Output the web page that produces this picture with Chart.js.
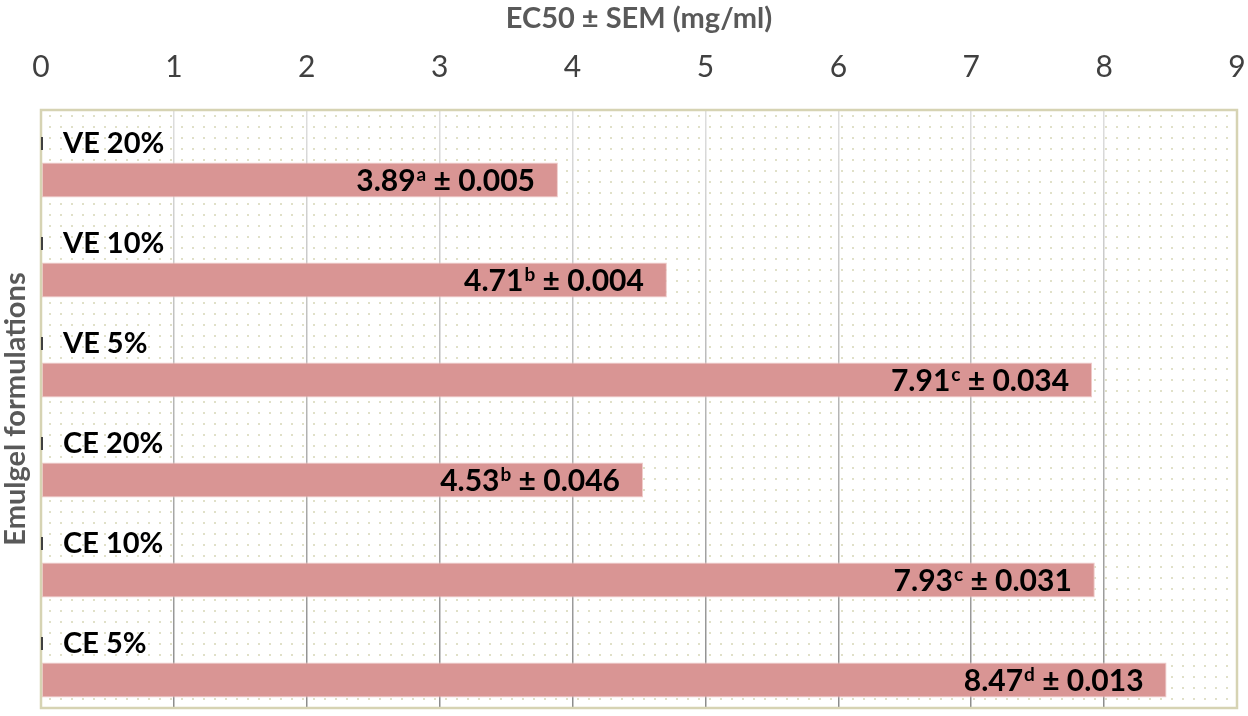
<!DOCTYPE html>
<html><head><meta charset="utf-8">
<script src="https://cdn.jsdelivr.net/npm/chart.js@4/dist/chart.umd.min.js"></script>
<style>html,body{margin:0;padding:0;background:#fff}</style>
</head><body>
<canvas id="c" width="1248" height="716"></canvas>
<script>
const categories = ['VE 20%', 'VE 10%', 'VE 5%', 'CE 20%', 'CE 10%', 'CE 5%'];
const ec50 = [3.89, 4.71, 7.91, 4.53, 7.93, 8.47];
const semText = ['0.005', '0.004', '0.034', '0.046', '0.031', '0.013'];
const groupLetters = ['a', 'b', 'c', 'b', 'c', 'd'];
const xTicks = [0, 1, 2, 3, 4, 5, 6, 7, 8, 9];
const xTitle = 'EC50 ± SEM (mg/ml)';
const yTitle = 'Emulgel formulations';

const FONT = 'Lato';

function makePattern(ctx) {
  const p = document.createElement('canvas');
  p.width = 11; p.height = 11;
  const pc = p.getContext('2d');
  pc.fillStyle = '#fff';
  pc.fillRect(0, 0, 11, 11);
  pc.fillStyle = '#e0e0c8';
  pc.fillRect(5, 5, 2, 2);
  return ctx.createPattern(p, 'repeat');
}

const decorPlugin = {
  id: 'decor',
  beforeDraw(chart) {
    const { ctx, chartArea: a } = chart;
    ctx.save();
    ctx.fillStyle = makePattern(ctx);
    ctx.fillRect(a.left, a.top, a.right - a.left, a.bottom - a.top);
    ctx.restore();
  },
  afterDatasetsDraw(chart) {
    const { ctx, chartArea: a } = chart;
    const yScale = chart.scales.y;
    const meta = chart.getDatasetMeta(0);
    ctx.save();
    ctx.strokeStyle = '#d6d3b3';
    ctx.lineWidth = 2.5;
    ctx.strokeRect(a.left, a.top, a.right - a.left, a.bottom - a.top);
    meta.data.forEach((bar, i) => {
      const ly = yScale.getPixelForValue(i - 0.37);
      ctx.strokeStyle = '#404040';
      ctx.lineWidth = 2;
      ctx.beginPath();
      ctx.moveTo(a.left + 1, ly - 6);
      ctx.lineTo(a.left + 1, ly + 7);
      ctx.stroke();
      ctx.fillStyle = '#000';
      ctx.textBaseline = 'alphabetic';
      ctx.textAlign = 'left';
      ctx.font = 'bold 29px ' + FONT;
      ctx.fillText(categories[i], a.left + 22, ly + 10);
      const main = ec50[i].toFixed(2);
      const sup = groupLetters[i];
      const rest = ' ± ' + semText[i];
      ctx.font = 'bold 30px ' + FONT;
      const wMain = ctx.measureText(main).width;
      const wRest = ctx.measureText(rest).width;
      ctx.font = 'bold 19px ' + FONT;
      const wSup = ctx.measureText(sup).width;
      const right = bar.x - 23;
      let x = right - (wMain + wSup + 1 + wRest);
      const by = bar.y + 11;
      ctx.font = 'bold 30px ' + FONT;
      ctx.fillText(main, x, by);
      x += wMain + 1;
      ctx.font = 'bold 19px ' + FONT;
      ctx.fillText(sup, x, by - 10);
      x += wSup;
      ctx.font = 'bold 30px ' + FONT;
      ctx.fillText(rest, x, by);
    });
    ctx.restore();
  }
};

function gridColor(c) {
  const ch = c.chart;
  const a = ch.chartArea;
  if (!a) return '#c8c8c8';
  const g = ch.ctx.createLinearGradient(0, a.top, 0, a.bottom);
  g.addColorStop(0, '#dedede');
  g.addColorStop(1, '#8c8c8c');
  return g;
}

new Chart(document.getElementById('c'), {
  type: 'bar',
  data: {
    datasets: [{
      data: ec50.map((v, i) => ({ x: v, y: i })),
      backgroundColor: '#d99594',
      borderColor: '#f0cccb',
      borderWidth: 1,
      borderSkipped: false,
      barPercentage: 0.35,
      categoryPercentage: 1
    }]
  },
  options: {
    indexAxis: 'y',
    responsive: false,
    animation: false,
    layout: { padding: { left: 0, right: 11, top: 0, bottom: 8 } },
    plugins: { legend: { display: false }, tooltip: { enabled: false } },
    scales: {
      x: {
        type: 'linear',
        position: 'top',
        min: 0,
        max: 9,
        afterBuildTicks(s) { s.ticks = xTicks.map(v => ({ value: v })); },
        afterFit(s) { s.height = 110; s.paddingLeft = 0; s.paddingRight = 0; },
        ticks: { color: '#404040', font: { family: FONT, size: 30 }, padding: 25 },
        grid: { drawTicks: false, color: gridColor, lineWidth: 1.5 },
        border: { display: false },
        title: {
          display: true, text: xTitle, color: '#595959',
          font: { family: FONT, size: 29, weight: 'bold' },
          padding: { top: 1, bottom: 0 }
        }
      },
      y: {
        type: 'linear',
        reverse: true,
        offset: false,
        min: -0.7,
        max: 5.28,
        afterBuildTicks(s) { s.ticks = categories.map((c, i) => ({ value: i })); },
        afterFit(s) { s.width = 41; s.paddingTop = 0; s.paddingBottom = 0; },
        ticks: { display: false },
        grid: { display: false, offset: false },
        border: { display: false },
        title: {
          display: true, text: yTitle, color: '#595959',
          font: { family: FONT, size: 29, weight: 'bold' },
          padding: { top: -2, bottom: 0 }
        }
      }
    }
  },
  plugins: [decorPlugin]
});
</script>
</body></html>
